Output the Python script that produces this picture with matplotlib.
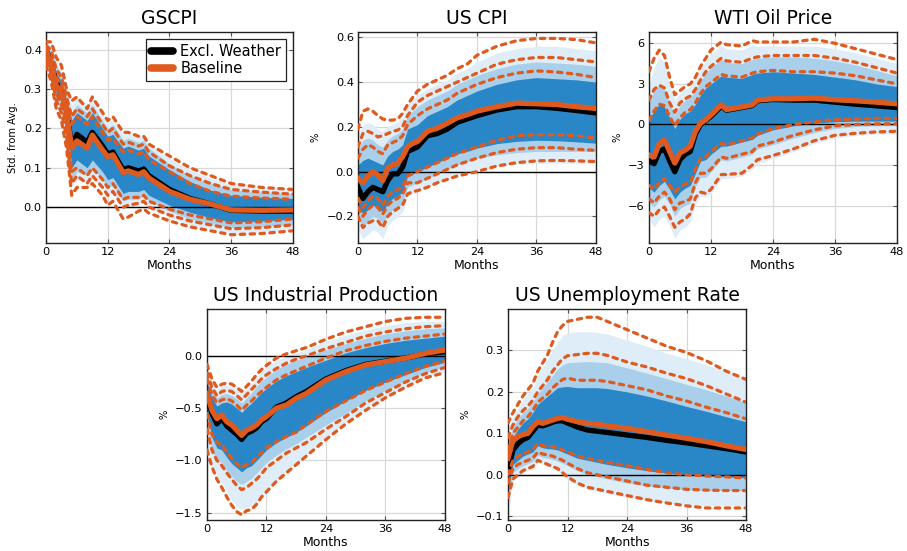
import numpy as np
import matplotlib.pyplot as plt
from matplotlib.lines import Line2D

# colours
c_dark = '#2a87c7'
c_mid = '#a9cfea'
c_light = '#deedf8'
c_orange = '#de5a1f'

# ---------------- GSCPI ----------------
gscpi_months = [0, 1, 2, 3, 4, 5, 6, 8, 9, 11, 12, 13, 15, 16, 18, 19, 20, 24, 28, 32, 36, 42, 48]
gscpi_ew_med = [.40, .365, .315, .295, .245, .155, .185, .165, .19, .155, .135, .14, .095, .10, .092, .097, .08, .045, .022, .008, -.008, -.01, -.01]
gscpi_ew_in_hi = [.41, .39, .34, .32, .27, .22, .24, .22, .24, .20, .18, .185, .15, .155, .145, .15, .13, .095, .065, .043, .03, .025, .022]
gscpi_ew_in_lo = [.38, .35, .29, .27, .22, .10, .12, .10, .12, .09, .07, .075, .035, .04, .04, .045, .03, .005, -.013, -.027, -.037, -.035, -.03]
gscpi_ew_mid_hi = [.42, .40, .36, .34, .29, .24, .26, .24, .26, .22, .20, .21, .17, .175, .165, .17, .15, .11, .08, .06, .045, .038, .034]
gscpi_ew_mid_lo = [.37, .34, .27, .25, .19, .07, .09, .08, .10, .07, .05, .055, .015, .02, .02, .03, .015, -.01, -.03, -.042, -.052, -.05, -.044]
gscpi_ew_out_hi = [.43, .41, .37, .35, .30, .26, .28, .26, .28, .235, .215, .225, .185, .19, .18, .18, .16, .125, .095, .073, .057, .05, .045]
gscpi_ew_out_lo = [.36, .33, .26, .23, .17, .05, .07, .06, .08, .05, .03, .035, -.005, 0.0, .005, .01, 0.0, -.025, -.045, -.055, -.065, -.063, -.058]
gscpi_bl_med = [.40, .36, .31, .29, .24, .15, .168, .15, .183, .145, .128, .133, .088, .092, .083, .09, .074, .04, .02, .008, -.007, -.008, -.007]
gscpi_bl_in_hi = [.40, .38, .33, .31, .26, .21, .23, .21, .23, .19, .17, .175, .14, .145, .135, .14, .12, .09, .06, .04, .028, .023, .02]
gscpi_bl_in_lo = [.38, .35, .29, .26, .21, .09, .10, .08, .10, .07, .05, .06, .02, .025, .025, .03, .015, -.005, -.02, -.03, -.04, -.037, -.03]
gscpi_bl_mid_hi = [.41, .40, .35, .33, .28, .23, .25, .23, .25, .21, .19, .20, .16, .165, .155, .16, .14, .105, .08, .06, .045, .038, .033]
gscpi_bl_mid_lo = [.37, .34, .27, .24, .18, .06, .08, .06, .08, .05, .03, .04, .0, .005, .01, .015, .0, -.02, -.035, -.045, -.055, -.052, -.045]
gscpi_bl_out_hi = [.42, .42, .38, .36, .30, .27, .28, .25, .28, .24, .22, .23, .19, .19, .18, .18, .16, .13, .10, .08, .06, .05, .045]
gscpi_bl_out_lo = [.36, .32, .25, .22, .15, .03, .05, .05, .06, .03, .005, .015, -.03, -.025, -.01, -.005, -.015, -.035, -.05, -.06, -.07, -.067, -.06]

# ---------------- US CPI ----------------
cpi_months = [0, 1, 2, 3, 4, 5, 6, 7, 8, 9, 10, 11, 12, 14, 16, 18, 20, 22, 24, 28, 32, 36, 40, 44, 48]
cpi_ew_med = [-.07, -.12, -.09, -.07, -.08, -.09, -.04, -.01, -.01, .02, .09, .10, .11, .16, .17, .19, .22, .235, .25, .275, .29, .29, .283, .273, .262]
cpi_ew_in_hi = [.03, .05, .06, .05, .04, .03, .07, .09, .10, .12, .19, .20, .21, .25, .27, .29, .32, .34, .36, .39, .41, .42, .415, .41, .40]
cpi_ew_in_lo = [-.16, -.19, -.17, -.15, -.16, -.18, -.14, -.12, -.11, -.09, -.02, -.01, 0.0, .02, .04, .06, .08, .09, .105, .125, .135, .14, .138, .133, .127]
cpi_ew_mid_hi = [.10, .14, .15, .14, .12, .11, .14, .16, .17, .19, .25, .27, .29, .32, .34, .36, .39, .41, .43, .46, .48, .49, .485, .48, .47]
cpi_ew_mid_lo = [-.21, -.25, -.22, -.20, -.21, -.23, -.19, -.17, -.16, -.14, -.07, -.06, -.05, -.03, -.01, .01, .03, .045, .06, .075, .085, .09, .09, .09, .09]
cpi_ew_out_hi = [.17, .21, .22, .21, .19, .18, .20, .21, .22, .24, .30, .32, .34, .37, .39, .41, .44, .46, .49, .53, .55, .56, .56, .55, .54]
cpi_ew_out_lo = [-.26, -.30, -.28, -.26, -.27, -.30, -.24, -.22, -.20, -.18, -.11, -.10, -.09, -.07, -.05, -.035, -.015, 0.0, .01, .025, .033, .037, .038, .038, .037]
cpi_bl_med = [-.03, -.05, -.02, 0.0, -.015, -.04, .015, .03, .037, .067, .11, .127, .134, .18, .194, .216, .24, .254, .27, .29, .306, .303, .30, .29, .282]
cpi_bl_in_hi = [.06, .10, .12, .11, .09, .08, .12, .13, .14, .16, .21, .23, .25, .28, .30, .32, .35, .37, .39, .42, .44, .45, .445, .435, .42]
cpi_bl_in_lo = [-.12, -.16, -.13, -.11, -.12, -.15, -.11, -.09, -.08, -.07, -.02, -.01, 0.0, .02, .04, .06, .08, .095, .11, .14, .16, .165, .165, .16, .15]
cpi_bl_mid_hi = [.11, .17, .18, .17, .155, .16, .17, .18, .185, .20, .25, .28, .31, .34, .36, .38, .40, .42, .44, .48, .50, .51, .51, .50, .49]
cpi_bl_mid_lo = [-.16, -.20, -.17, -.15, -.16, -.19, -.15, -.13, -.12, -.10, -.05, -.05, -.05, -.03, -.01, .01, .03, .045, .06, .085, .10, .107, .107, .10, .095]
cpi_bl_out_hi = [.19, .27, .28, .27, .25, .235, .23, .23, .235, .26, .30, .33, .36, .39, .41, .43, .46, .48, .52, .56, .585, .595, .595, .59, .575]
cpi_bl_out_lo = [-.20, -.25, -.23, -.22, -.22, -.25, -.20, -.18, -.165, -.15, -.10, -.09, -.085, -.07, -.05, -.035, -.02, -.01, 0.0, .025, .04, .048, .05, .048, .045]

# ---------------- WTI Oil Price ----------------
wti_months = [0, 1, 2, 3, 4, 5, 6, 7, 8, 9, 10, 11, 12, 14, 15, 18, 20, 21, 24, 28, 32, 36, 40, 44, 48]
wti_ew_med = [-2.7, -2.9, -2.0, -1.8, -2.7, -3.5, -2.6, -2.2, -2.0, -0.7, 0.0, 0.3, 0.6, 1.35, 1.05, 1.25, 1.4, 1.75, 1.85, 1.8, 1.8, 1.65, 1.5, 1.38, 1.25]
wti_ew_in_hi = [0.4, 1.0, 1.5, 1.3, 0.5, -0.3, 0.4, 0.8, 1.0, 1.5, 2.2, 2.7, 3.0, 3.6, 3.5, 3.4, 3.7, 3.8, 3.9, 3.8, 3.7, 3.5, 3.3, 3.0, 2.8]
wti_ew_in_lo = [-4.7, -5.0, -4.5, -4.2, -4.8, -5.5, -5.0, -4.7, -4.5, -3.6, -2.7, -2.6, -2.2, -1.6, -1.6, -1.3, -1.1, -0.8, -0.4, -0.1, 0.1, 0.2, 0.25, 0.25, 0.25]
wti_ew_mid_hi = [1.6, 2.5, 2.9, 2.6, 1.5, 0.7, 1.4, 1.8, 2.0, 2.5, 3.2, 3.8, 4.2, 4.8, 4.6, 4.5, 4.8, 4.9, 5.0, 5.0, 4.9, 4.7, 4.4, 4.0, 3.6]
wti_ew_mid_lo = [-5.8, -6.1, -5.6, -5.3, -5.9, -6.8, -6.2, -6.0, -5.8, -4.6, -3.9, -3.9, -3.5, -2.6, -2.7, -2.4, -2.2, -1.8, -1.5, -1.0, -0.6, -0.3, -0.15, -0.1, -0.1]
wti_ew_out_hi = [2.9, 4.2, 5.0, 4.6, 3.0, 1.8, 2.3, 2.6, 2.8, 3.4, 4.1, 4.7, 5.2, 5.8, 5.6, 5.5, 5.9, 5.8, 5.8, 5.8, 5.8, 5.6, 5.3, 4.9, 4.5]
wti_ew_out_lo = [-7.0, -7.6, -7.0, -6.8, -7.5, -8.4, -7.8, -7.6, -7.2, -5.9, -5.3, -5.4, -5.1, -4.0, -4.0, -3.8, -3.3, -2.9, -2.5, -2.0, -1.4, -1.0, -0.8, -0.7, -0.7]
wti_bl_med = [-2.25, -2.4, -1.4, -1.15, -2.0, -2.85, -2.1, -1.9, -1.6, -0.5, 0.1, 0.35, 0.7, 1.45, 1.1, 1.3, 1.45, 1.8, 1.9, 1.9, 1.95, 1.83, 1.75, 1.65, 1.53]
wti_bl_in_hi = [0.3, 1.0, 1.5, 1.4, 0.6, -0.1, 0.5, 0.9, 1.1, 1.6, 2.3, 2.8, 3.1, 3.7, 3.6, 3.5, 3.8, 3.9, 4.0, 3.9, 3.9, 3.8, 3.6, 3.3, 3.0]
wti_bl_in_lo = [-4.5, -4.8, -4.3, -4.0, -4.5, -5.0, -4.6, -4.4, -4.3, -3.3, -2.5, -2.4, -2.0, -1.4, -1.5, -1.2, -1.0, -0.7, -0.3, 0.0, 0.2, 0.35, 0.4, 0.45, 0.45]
wti_bl_mid_hi = [1.8, 2.6, 2.9, 2.7, 1.6, 0.9, 1.6, 1.9, 2.1, 2.6, 3.3, 3.9, 4.3, 4.9, 4.7, 4.6, 4.9, 5.0, 5.1, 5.1, 5.1, 4.9, 4.6, 4.2, 3.8]
wti_bl_mid_lo = [-5.5, -5.8, -5.3, -5.0, -5.5, -6.3, -5.8, -5.7, -5.5, -4.3, -3.6, -3.6, -3.3, -2.4, -2.5, -2.2, -2.0, -1.6, -1.3, -0.8, -0.4, -0.1, 0.0, 0.05, 0.05]
wti_bl_out_hi = [3.9, 4.9, 5.5, 5.1, 3.5, 2.2, 2.5, 2.8, 3.0, 3.5, 4.3, 4.9, 5.5, 6.1, 5.9, 5.8, 6.2, 6.1, 6.1, 6.1, 6.3, 6.0, 5.6, 5.2, 4.8]
wti_bl_out_lo = [-6.5, -6.8, -6.3, -6.1, -6.8, -7.6, -7.2, -7.0, -6.6, -5.4, -5.0, -5.1, -4.8, -3.7, -3.7, -3.6, -3.0, -2.6, -2.3, -1.8, -1.2, -0.8, -0.65, -0.55, -0.5]

# ---------------- US Industrial Production ----------------
ip_months = [0, 1, 2, 3, 4, 5, 6, 7, 8, 9, 10, 11, 12, 14, 16, 18, 20, 24, 28, 32, 36, 40, 44, 48]
ip_ew_med = [-.38, -.55, -.65, -.60, -.67, -.71, -.75, -.80, -.74, -.72, -.69, -.63, -.60, -.49, -.45, -.39, -.34, -.22, -.14, -.08, -.05, -.02, .02, .04]
ip_ew_in_hi = [-.25, -.40, -.48, -.45, -.44, -.46, -.50, -.54, -.49, -.45, -.40, -.35, -.31, -.24, -.19, -.15, -.11, -.04, .03, .08, .12, .15, .17, .19]
ip_ew_in_lo = [-.55, -.78, -.88, -.90, -.97, -1.03, -1.07, -1.11, -1.07, -1.05, -1.0, -.95, -.90, -.83, -.78, -.73, -.67, -.54, -.43, -.33, -.25, -.18, -.11, -.06]
ip_ew_mid_hi = [-.18, -.32, -.40, -.37, -.36, -.38, -.41, -.45, -.40, -.35, -.29, -.24, -.20, -.13, -.08, -.04, -.01, .06, .12, .17, .21, .24, .26, .27]
ip_ew_mid_lo = [-.68, -.90, -.99, -1.02, -1.10, -1.15, -1.20, -1.23, -1.20, -1.17, -1.12, -1.07, -1.02, -.95, -.89, -.84, -.78, -.66, -.55, -.43, -.33, -.24, -.16, -.10]
ip_ew_out_hi = [-.10, -.24, -.32, -.29, -.28, -.29, -.32, -.36, -.31, -.26, -.20, -.15, -.11, -.04, 0.0, .03, .06, .14, .20, .25, .29, .32, .33, .33]
ip_ew_out_lo = [-.88, -1.05, -1.15, -1.22, -1.30, -1.38, -1.44, -1.47, -1.45, -1.44, -1.40, -1.33, -1.27, -1.18, -1.10, -1.02, -.94, -.78, -.63, -.50, -.39, -.29, -.20, -.15]
ip_bl_med = [-.36, -.52, -.60, -.565, -.63, -.66, -.71, -.76, -.71, -.69, -.66, -.61, -.58, -.50, -.47, -.405, -.36, -.23, -.15, -.086, -.054, -.022, .025, .057]
ip_bl_in_hi = [-.22, -.37, -.45, -.42, -.41, -.43, -.47, -.52, -.47, -.43, -.38, -.34, -.30, -.23, -.18, -.14, -.10, -.02, .05, .10, .14, .17, .19, .21]
ip_bl_in_lo = [-.55, -.75, -.83, -.85, -.92, -.98, -1.03, -1.07, -1.04, -1.02, -.97, -.93, -.88, -.82, -.77, -.73, -.66, -.53, -.43, -.33, -.25, -.17, -.10, -.05]
ip_bl_mid_hi = [-.16, -.30, -.38, -.34, -.33, -.34, -.38, -.42, -.37, -.32, -.27, -.22, -.18, -.12, -.07, -.03, 0.0, .07, .13, .19, .23, .26, .28, .29]
ip_bl_mid_lo = [-.70, -.90, -1.00, -1.05, -1.12, -1.18, -1.24, -1.28, -1.26, -1.22, -1.18, -1.13, -1.07, -1.0, -.93, -.88, -.83, -.70, -.58, -.45, -.35, -.25, -.17, -.11]
ip_bl_out_hi = [-.08, -.22, -.30, -.27, -.26, -.27, -.30, -.34, -.29, -.24, -.18, -.13, -.09, -.02, .02, .05, .08, .16, .23, .28, .33, .36, .37, .37]
ip_bl_out_lo = [-.90, -1.06, -1.18, -1.26, -1.35, -1.43, -1.49, -1.52, -1.48, -1.47, -1.42, -1.35, -1.30, -1.20, -1.12, -1.04, -.96, -.80, -.65, -.52, -.40, -.30, -.21, -.16]

# ---------------- US Unemployment Rate ----------------
ur_months = [0, 1, 2, 3, 4, 5, 6, 7, 8, 9, 10, 11, 12, 14, 16, 18, 20, 24, 28, 32, 36, 40, 44, 48]
ur_ew_med = [.01, .06, .075, .085, .09, .105, .12, .118, .122, .127, .13, .13, .125, .115, .108, .105, .102, .096, .09, .083, .077, .07, .063, .055]
ur_ew_in_hi = [.04, .09, .11, .125, .135, .15, .17, .18, .19, .20, .21, .212, .213, .21, .21, .21, .208, .20, .19, .178, .165, .153, .14, .128]
ur_ew_in_lo = [-.04, .025, .035, .045, .05, .055, .07, .065, .063, .062, .06, .055, .05, .04, .035, .03, .025, .017, .01, .004, 0.0, -.003, -.005, -.007]
ur_ew_mid_hi = [.08, .115, .135, .15, .16, .175, .195, .21, .225, .24, .255, .265, .27, .272, .273, .272, .27, .258, .245, .232, .218, .205, .19, .175]
ur_ew_mid_lo = [-.07, .005, .015, .022, .027, .032, .047, .042, .04, .037, .033, .028, .022, .01, 0.0, -.005, -.01, -.02, -.027, -.032, -.036, -.038, -.038, -.038]
ur_ew_out_hi = [.11, .14, .16, .18, .195, .21, .24, .26, .28, .30, .32, .335, .342, .345, .345, .343, .34, .325, .31, .293, .28, .265, .25, .232]
ur_ew_out_lo = [-.10, -.015, -.005, .005, .01, .015, .03, .025, .02, .015, .01, 0.0, -.01, -.025, -.035, -.04, -.045, -.055, -.062, -.068, -.072, -.074, -.074, -.074]
ur_bl_med = [.04, .084, .092, .097, .10, .116, .128, .124, .128, .132, .136, .138, .134, .128, .124, .122, .118, .112, .104, .096, .088, .08, .07, .061]
ur_bl_in_hi = [.06, .10, .115, .13, .14, .155, .175, .185, .195, .21, .22, .23, .233, .228, .228, .228, .225, .215, .205, .19, .178, .163, .15, .135]
ur_bl_in_lo = [0.0, .035, .045, .05, .055, .06, .075, .07, .068, .068, .065, .06, .055, .045, .04, .035, .03, .022, .013, .005, 0.0, -.003, -.005, -.008]
ur_bl_mid_hi = [.09, .12, .14, .155, .165, .18, .20, .215, .23, .25, .265, .28, .287, .29, .293, .293, .288, .272, .26, .245, .232, .215, .195, .175]
ur_bl_mid_lo = [-.02, .015, .025, .03, .035, .04, .055, .05, .048, .045, .04, .035, .028, .015, .005, 0.0, -.005, -.015, -.025, -.03, -.035, -.037, -.038, -.038]
ur_bl_out_hi = [.125, .15, .17, .19, .205, .22, .25, .27, .29, .32, .345, .36, .37, .375, .38, .38, .37, .35, .33, .31, .295, .275, .25, .23]
ur_bl_out_lo = [-.055, -.01, 0.0, .01, .015, .02, .035, .03, .025, .02, .015, .005, -.005, -.02, -.03, -.035, -.04, -.05, -.06, -.068, -.075, -.08, -.08, -.08]


def draw_panel(ax, title, ylabel, months, ew_med, ew_bands, bl_med, bl_bands, ylim, yticks):
    # Excl. Weather bands, widest first
    for (lo, hi), col in zip(ew_bands, [c_light, c_mid, c_dark]):
        ax.fill_between(months, lo, hi, color=col, lw=0, zorder=1)
    ax.axhline(0, color='black', lw=1.0, zorder=2)
    ax.plot(months, ew_med, color='black', lw=3.8, zorder=3, solid_joinstyle='round')
    for lo, hi in bl_bands:
        for s in (lo, hi):
            ax.plot(months, s, color=c_orange, lw=2.3, zorder=4,
                    linestyle=(0, (1.4, 1.7)), dash_capstyle='round')
    ax.plot(months, bl_med, color=c_orange, lw=3.8, zorder=5, solid_joinstyle='round')

    ax.set_title(title, fontsize=13.5, pad=6)
    ax.set_xlim(0, 48)
    ax.set_xticks([0, 12, 24, 36, 48])
    ax.set_ylim(*ylim)
    ax.set_yticks(yticks)
    ax.set_xlabel('Months', fontsize=9, labelpad=1)
    ax.set_ylabel(ylabel, fontsize=7.2, labelpad=4)
    ax.grid(True, color='#d8d8d8', lw=0.9)
    ax.set_axisbelow(True)
    ax.tick_params(direction='in', length=3, width=0.8, labelsize=8.2,
                   top=True, right=True, pad=3, color='#555555')
    for sp in ax.spines.values():
        sp.set_linewidth(1.0)
        sp.set_color('#222222')


fig = plt.figure(figsize=(9.07, 5.51), dpi=100)

ax1 = fig.add_axes([0.0507, 0.559, 0.2723, 0.383])
ax2 = fig.add_axes([0.3947, 0.559, 0.2624, 0.383])
ax3 = fig.add_axes([0.7155, 0.559, 0.2734, 0.383])
ax4 = fig.add_axes([0.2282, 0.0563, 0.2624, 0.383])
ax5 = fig.add_axes([0.5601, 0.0563, 0.2624, 0.383])

draw_panel(ax1, 'GSCPI', 'Std. from Avg.', gscpi_months, gscpi_ew_med,
           [(gscpi_ew_out_lo, gscpi_ew_out_hi), (gscpi_ew_mid_lo, gscpi_ew_mid_hi), (gscpi_ew_in_lo, gscpi_ew_in_hi)],
           gscpi_bl_med,
           [(gscpi_bl_out_lo, gscpi_bl_out_hi), (gscpi_bl_mid_lo, gscpi_bl_mid_hi), (gscpi_bl_in_lo, gscpi_bl_in_hi)],
           (-0.091, 0.445), [0.0, 0.1, 0.2, 0.3, 0.4])
ax1.set_yticklabels(['0.0', '0.1', '0.2', '0.3', '0.4'])

draw_panel(ax2, 'US CPI', '%', cpi_months, cpi_ew_med,
           [(cpi_ew_out_lo, cpi_ew_out_hi), (cpi_ew_mid_lo, cpi_ew_mid_hi), (cpi_ew_in_lo, cpi_ew_in_hi)],
           cpi_bl_med,
           [(cpi_bl_out_lo, cpi_bl_out_hi), (cpi_bl_mid_lo, cpi_bl_mid_hi), (cpi_bl_in_lo, cpi_bl_in_hi)],
           (-0.319, 0.624), [-0.2, 0.0, 0.2, 0.4, 0.6])

draw_panel(ax3, 'WTI Oil Price', '%', wti_months, wti_ew_med,
           [(wti_ew_out_lo, wti_ew_out_hi), (wti_ew_mid_lo, wti_ew_mid_hi), (wti_ew_in_lo, wti_ew_in_hi)],
           wti_bl_med,
           [(wti_bl_out_lo, wti_bl_out_hi), (wti_bl_mid_lo, wti_bl_mid_hi), (wti_bl_in_lo, wti_bl_in_hi)],
           (-8.76, 6.84), [-6, -3, 0, 3, 6])

draw_panel(ax4, 'US Industrial Production', '%', ip_months, ip_ew_med,
           [(ip_ew_out_lo, ip_ew_out_hi), (ip_ew_mid_lo, ip_ew_mid_hi), (ip_ew_in_lo, ip_ew_in_hi)],
           ip_bl_med,
           [(ip_bl_out_lo, ip_bl_out_hi), (ip_bl_mid_lo, ip_bl_mid_hi), (ip_bl_in_lo, ip_bl_in_hi)],
           (-1.57, 0.45), [-1.5, -1.0, -0.5, 0.0])

draw_panel(ax5, 'US Unemployment Rate', '%', ur_months, ur_ew_med,
           [(ur_ew_out_lo, ur_ew_out_hi), (ur_ew_mid_lo, ur_ew_mid_hi), (ur_ew_in_lo, ur_ew_in_hi)],
           ur_bl_med,
           [(ur_bl_out_lo, ur_bl_out_hi), (ur_bl_mid_lo, ur_bl_mid_hi), (ur_bl_in_lo, ur_bl_in_hi)],
           (-0.109, 0.40), [-0.1, 0.0, 0.1, 0.2, 0.3])

handles = [Line2D([0], [0], color='black', lw=5.5, solid_capstyle='round'),
           Line2D([0], [0], color=c_orange, lw=5.5, solid_capstyle='round')]
leg = ax1.legend(handles, ['Excl. Weather', 'Baseline'], loc='upper right',
                 fontsize=10.5, frameon=True, fancybox=False, framealpha=1,
                 edgecolor='#222222', handlelength=1.5, handletextpad=0.5,
                 borderpad=0.35, labelspacing=0.15, borderaxespad=0.45)
leg.get_frame().set_linewidth(0.9)
leg.set_zorder(10)

fig.savefig('out.png', dpi=100)
